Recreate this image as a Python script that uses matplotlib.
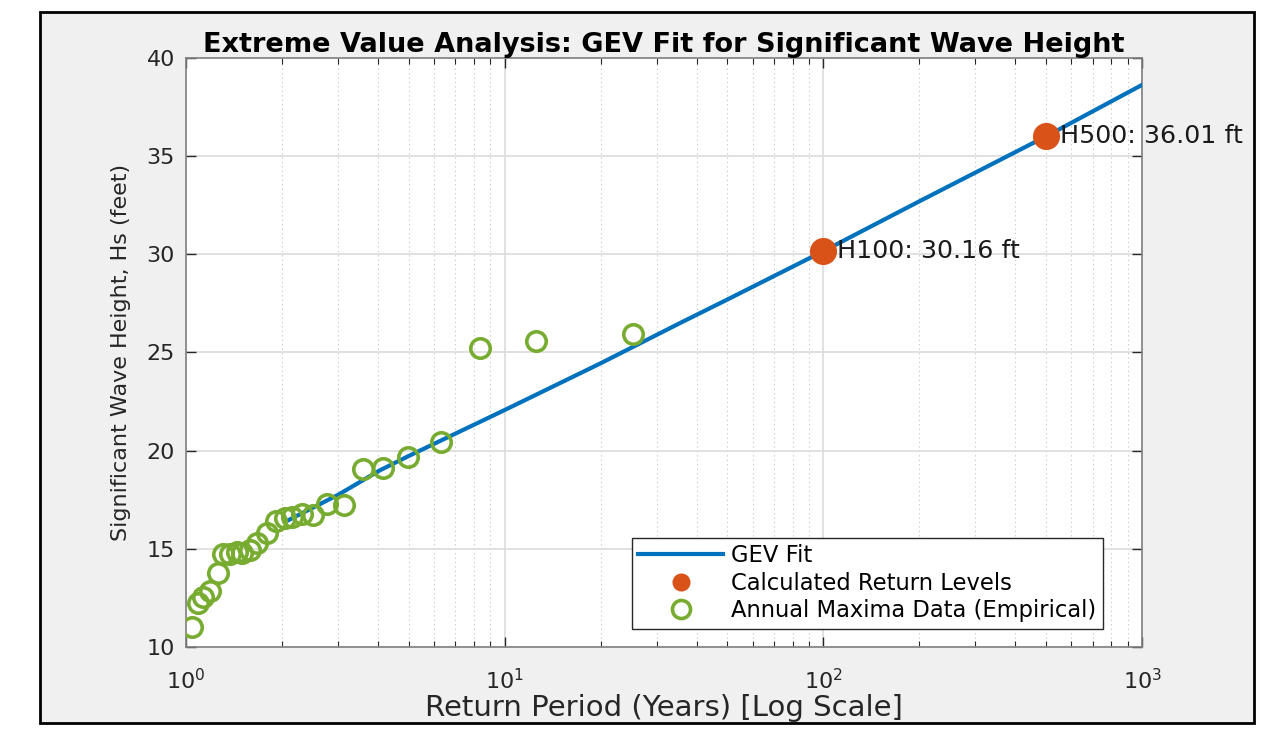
import matplotlib
matplotlib.use("Agg")
import matplotlib.pyplot as plt
from matplotlib.patches import Rectangle
from matplotlib.ticker import LogLocator, NullFormatter

plt.rcParams['font.family'] = ['DejaVu Sans']
plt.rcParams['mathtext.fontset'] = 'dejavusans'

# Empirical annual maxima (return period in years, Hs in feet)
emp_T = [1.042, 1.093, 1.133, 1.19, 1.257, 1.31, 1.374, 1.443, 1.496, 1.588,
         1.674, 1.79, 1.916, 2.045, 2.146, 2.307, 2.509, 2.764, 3.13, 3.585,
         4.16, 4.98, 6.3, 8.37, 12.5, 25.2]
emp_H = [11.03, 12.26, 12.56, 12.87, 13.75, 14.74, 14.72, 14.85, 14.8, 14.94,
         15.28, 15.79, 16.42, 16.56, 16.64, 16.78, 16.72, 17.28, 17.22, 19.05,
         19.1, 19.66, 20.46, 25.22, 25.59, 25.93]

# GEV fit curve
fit_T = [2.05, 3, 4.06, 5, 10, 20, 35.5, 50, 100, 200, 500, 1000]
fit_H = [16.38, 17.75, 19.0, 19.73, 22.07, 24.45, 26.5, 27.7, 30.16, 32.7, 36.01, 38.63]

# Calculated return levels
rl_T = [100, 500]
rl_H = [30.16, 36.01]
rl_labels = ['H100: 30.16 ft', 'H500: 36.01 ft']

blue = '#0072BD'
orange = '#D95319'
green = '#77AC30'
axcol = '#262626'

fig = plt.figure(figsize=(12.69, 7.49), dpi=100)
fig.patch.set_facecolor('white')
fig.patches.append(Rectangle((0.0315, 0.035), 0.9567, 0.949, transform=fig.transFigure,
                             facecolor='#f0f0f0', edgecolor='black', linewidth=2, zorder=-10))

ax = fig.add_axes([0.1466, 0.1362, 0.7534, 0.7864])
ax.set_facecolor('white')

ax.plot(fit_T, fit_H, color=blue, linewidth=3, label='GEV Fit', zorder=3)
ax.plot(rl_T, rl_H, 'o', color=orange, markersize=19.5, markeredgewidth=0,
        label='Calculated Return Levels', zorder=5)
ax.plot(emp_T, emp_H, 'o', markerfacecolor='none', markeredgecolor=green,
        markersize=14, markeredgewidth=2.6, label='Annual Maxima Data (Empirical)', zorder=4)

for t, h, s in zip(rl_T, rl_H, rl_labels):
    ax.annotate(s, (t, h), xytext=(10, 0), textcoords='offset points',
                ha='left', va='center', fontsize=18.3, color='#1a1a1a', zorder=6)

ax.set_xscale('log')
ax.set_xlim(1, 1000)
ax.set_ylim(10, 40)
ax.set_yticks([10, 15, 20, 25, 30, 35, 40])
ax.xaxis.set_major_locator(LogLocator(base=10, numticks=10))
ax.xaxis.set_minor_locator(LogLocator(base=10, subs=range(2, 10), numticks=100))
ax.xaxis.set_minor_formatter(NullFormatter())

ax.grid(True, which='major', color='#dcdcdc', linewidth=1.2, linestyle='-')
ax.grid(True, which='minor', axis='x', color='#c0c0c0', linewidth=0.8, linestyle=(0, (1, 3)))
ax.set_axisbelow(True)

ax.tick_params(which='both', direction='in', top=True, right=True, colors=axcol,
               labelsize=16, labelcolor='#262626')
ax.tick_params(which='major', length=7, width=1)
ax.tick_params(which='minor', length=4, width=0.8)
ax.tick_params(axis='x', which='major', pad=15)
ax.tick_params(axis='y', which='major', pad=8)
for sp in ax.spines.values():
    sp.set_color('#808080')
    sp.set_linewidth(1.2)

ax.set_title('Extreme Value Analysis: GEV Fit for Significant Wave Height',
             fontsize=19.5, fontweight='bold', pad=4, color='black')
ax.set_xlabel('Return Period (Years) [Log Scale]', fontsize=21, color='#262626', labelpad=1)
ax.set_ylabel('Significant Wave Height, Hs (feet)', fontsize=16, color='#262626', labelpad=11)

leg = ax.legend(loc='lower right', bbox_to_anchor=(0.959, 0.031), borderaxespad=0,
                fontsize=16.3, frameon=True, fancybox=False, edgecolor='#262626',
                framealpha=1, handlelength=3.75, handletextpad=0.35,
                borderpad=0.28, labelspacing=0.2)
leg.get_frame().set_linewidth(1)
hs = leg.legend_handles
hs[1].set_markersize(13)
hs[2].set_markersize(13)
hs[2].set_markeredgewidth(2.6)

fig.savefig('out.png', dpi=100, facecolor=fig.get_facecolor())
